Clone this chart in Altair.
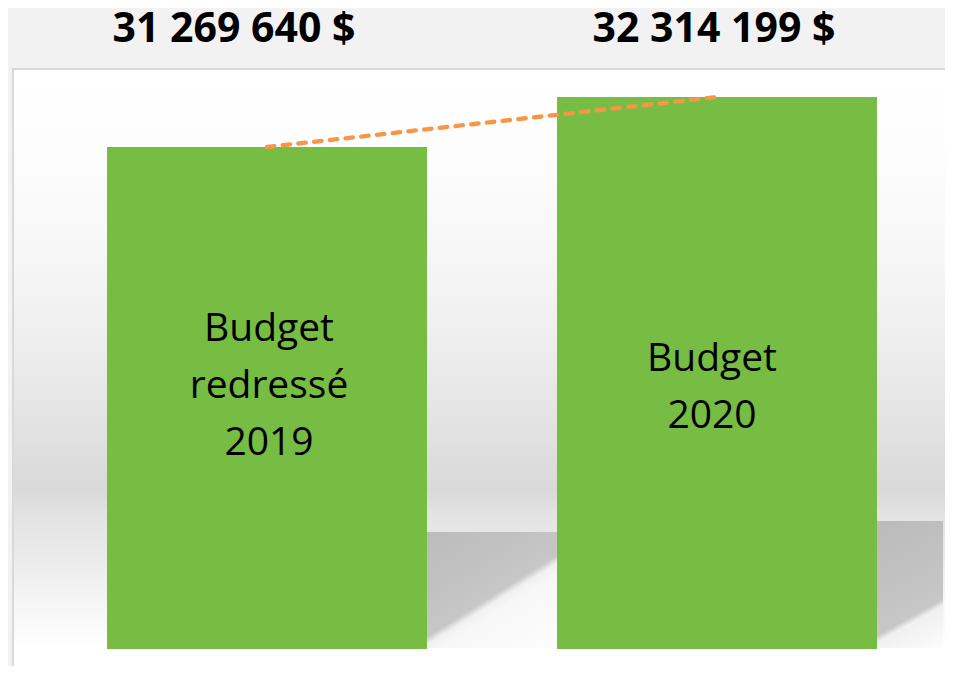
import altair as alt
import pandas as pd

# ---- data ----
categories = ["Budget redressé 2019", "Budget 2020"]
inner_labels = ["Budget\nredressé \n2019", "Budget\n2020"]
values = [31269640, 32314199]

def fmt(v):
    return f"{v:,}".replace(",", " ") + " $"

df = pd.DataFrame({
    "cat": categories,
    "inner": inner_labels,
    "value": values,
    "label": [fmt(v) for v in values],
})

Y_MIN = 20782367
Y_MAX = 32920038
W, H = 933, 598

x_enc = alt.X("cat:N", sort=categories, axis=None,
              scale=alt.Scale(range=[95, 865], paddingInner=0.2889, paddingOuter=0))
y_scale = alt.Scale(domain=[Y_MIN, Y_MAX], range=[581, 0], zero=False, nice=False)

one = alt.Data(values=[{"k": 1}])

bg = alt.Chart(one).mark_rect(fill=alt.LinearGradient(
    gradient="linear", x1=0, y1=0, x2=0, y2=1,
    stops=[
        alt.GradientStop(offset=0, color="#ffffff"),
        alt.GradientStop(offset=0.137, color="#fdfdfd"),
        alt.GradientStop(offset=0.304, color="#f7f7f7"),
        alt.GradientStop(offset=0.438, color="#efefef"),
        alt.GradientStop(offset=0.555, color="#e6e6e6"),
        alt.GradientStop(offset=0.672, color="#dcdcdc"),
        alt.GradientStop(offset=0.706, color="#d9d9d9"),
        alt.GradientStop(offset=0.747, color="#e3e3e3"),
        alt.GradientStop(offset=0.823, color="#ebebeb"),
        alt.GradientStop(offset=0.873, color="#f3f3f3"),
        alt.GradientStop(offset=0.94, color="#fbfbfb"),
        alt.GradientStop(offset=0.973, color="#ffffff"),
        alt.GradientStop(offset=1, color="#ffffff"),
    ])).encode(x=alt.value(0), x2=alt.value(W), y=alt.value(0), y2=alt.value(H))

shadow1 = alt.Chart(one).mark_rect(fill=alt.LinearGradient(
    gradient="linear", x1=0, y1=0, x2=0.802, y2=1.139,
    stops=[
        alt.GradientStop(offset=0, color="#bcbcbc"),
        alt.GradientStop(offset=0.3, color="#c1c1c1"),
        alt.GradientStop(offset=0.53, color="#c7c7c7"),
        alt.GradientStop(offset=0.57, color="#f0f0f0"),
        alt.GradientStop(offset=0.62, color="#f7f7f7"),
        alt.GradientStop(offset=1, color="#fdfdfd"),
    ])).encode(x=alt.value(415), x2=alt.value(545), y=alt.value(464), y2=alt.value(580))

shadow2 = alt.Chart(one).mark_rect(fill=alt.LinearGradient(
    gradient="linear", x1=0, y1=0, x2=0.344, y2=1.19,
    stops=[
        alt.GradientStop(offset=0, color="#bbbbbb"),
        alt.GradientStop(offset=0.4, color="#c1c1c1"),
        alt.GradientStop(offset=0.7, color="#c7c7c7"),
        alt.GradientStop(offset=0.74, color="#f0f0f0"),
        alt.GradientStop(offset=1, color="#fcfcfc"),
    ])).encode(x=alt.value(865), x2=alt.value(931), y=alt.value(453), y2=alt.value(580))

border_top = alt.Chart(one).mark_rule(color="#d9d9d9", strokeWidth=2).encode(
    x=alt.value(0), x2=alt.value(W), y=alt.value(1))
border_left = alt.Chart(one).mark_rule(color="#d9d9d9", strokeWidth=2).encode(
    x=alt.value(1), y=alt.value(0), y2=alt.value(H))

base = alt.Chart(df)

bars = base.mark_bar(color="#77bd43").encode(
    x=x_enc,
    y=alt.Y("value:Q", scale=y_scale, axis=None),
    y2=alt.datum(Y_MIN),
)

line = base.mark_line(color="#f79646", strokeWidth=4.3, strokeDash=[7.5, 8.3],
                      strokeCap="round").encode(
    x=x_enc,
    y=alt.Y("value:Q", scale=y_scale, axis=None),
)

def inner_text(i, y, dx):
    return base.transform_filter(alt.datum.cat == categories[i]).mark_text(
        font="Open Sans", fontSize=39, lineBreak="\n", lineHeight=57,
        align="center", baseline="middle", dx=dx, color="#000000").encode(
        x=x_enc, y=alt.value(y), text="inner:N")

inner1 = inner_text(0, 261, 2)
inner2 = inner_text(1, 291, -5)

def top_label(i, dx):
    return base.transform_filter(alt.datum.cat == categories[i]).mark_text(
        font="Open Sans", fontSize=41, fontWeight="bold", align="center",
        baseline="alphabetic", dx=dx, color="#000000").encode(
        x=x_enc, y=alt.value(-26), text="label:N")

lab1 = top_label(0, -33)
lab2 = top_label(1, -3)

chart = alt.layer(bg, shadow1, shadow2, border_top, border_left, bars, line,
                  inner1, inner2, lab1, lab2).properties(
    width=W, height=H,
    autosize=alt.AutoSizeParams(type="none"),
    padding={"left": 4, "top": 60, "right": 0, "bottom": 0},
    background="#f2f2f2",
).configure_view(strokeWidth=0)

chart.save("out.html", embed_options={"renderer": "svg", "actions": False})
